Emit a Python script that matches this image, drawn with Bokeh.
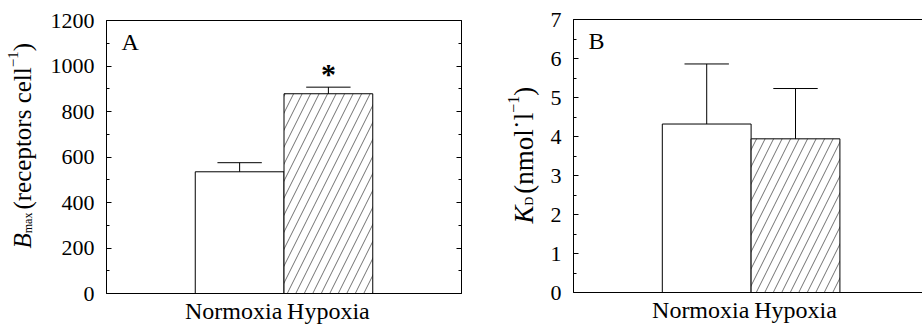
import math
from bokeh.plotting import figure
from bokeh.layouts import row
from bokeh.models import (Range1d, LinearAxis, SingleIntervalTicker, FixedTicker, Label,
                          ColumnDataSource, CustomJSTickFormatter)
from bokeh.embed import file_html
from bokeh.resources import INLINE

# ---------------- data ----------------
groups = ["Normoxia", "Hypoxia"]
group_labels = ["Normoxia\u2002", "Hypoxia"]
bmax_mean = [535, 878]
bmax_sem = [40, 29]
kd_mean = [4.32, 3.94]
kd_sem = [1.54, 1.29]
bar_hatch = [" ", "/"]
significant_bmax = [False, True]
significant_kd = [False, False]
panel_letters = ["A", "B"]

FONT = "Liberation Serif, Times New Roman, serif"
H = 324

# Times / Liberation Serif advance widths (per 1000 em) for label layout
MET = {" ": 250, "(": 333, ")": 333, "a": 444, "c": 444, "e": 444, "l": 278, "m": 778,
       "n": 500, "o": 500, "p": 500, "r": 333, "s": 389, "t": 278, "x": 500, "\u2212": 564,
       "1": 500, "D": 722, "B": 667, "K": 722, "\u02d9": 333}
MET_I = {"B": 611, "K": 667}


def twidth(s, size, style):
    tab = MET_I if style == "italic" else MET
    return sum(tab.get(c, MET.get(c, 500)) for c in s) * size / 1000.0


def label_strip(width, pieces, bx, by):
    """A narrow blank figure carrying the rotated y-axis title of the next panel."""
    s = figure(width=width, height=H, x_range=Range1d(0, 1), y_range=Range1d(0, 1),
               min_border=0, output_backend="svg", toolbar_location=None, tools="",
               x_axis_location=None, y_axis_location=None, frame_align=False,
               background_fill_color="white", border_fill_color="white")
    s.outline_line_color = None
    s.grid.visible = False
    y = by
    for txt, size, style, dx, gap in pieces:
        y += gap
        s.add_layout(Label(x=bx + dx, y=y, x_units="screen", y_units="screen", text=txt,
                           angle=math.pi / 2, text_font=FONT, text_font_size=f"{size}px",
                           text_font_style=style, text_align="left",
                           text_baseline="alphabetic", text_color="black"))
        y += twidth(txt, size, style)
    return s


def panel(means, sems, sig, ymax, interval, xmax, fw, mb_left, mb_right, mb_top,
          right_axis, letter):
    xpos = [i + 1.5 for i in range(len(groups))]
    p = figure(frame_width=fw, frame_height=273,
               x_range=Range1d(0, xmax), y_range=Range1d(0, ymax),
               output_backend="svg", toolbar_location=None, tools="",
               min_border_left=mb_left, min_border_right=mb_right,
               min_border_top=mb_top, min_border_bottom=31, frame_align=False,
               x_axis_location=None, y_axis_location=None,
               background_fill_color="white", border_fill_color="white")
    p.outline_line_color = None
    p.grid.visible = False

    src = ColumnDataSource(dict(x=xpos, top=means, hatch=bar_hatch,
                                err=[m + s for m, s in zip(means, sems)],
                                cl=[x - 0.25 for x in xpos], cr=[x + 0.25 for x in xpos]))
    p.vbar(x="x", top="top", width=1.0, source=src, fill_color="white",
           line_color="black", line_width=1, hatch_pattern="hatch",
           hatch_color="#333333", hatch_weight=0.7, hatch_scale=17)
    p.segment(x0="x", y0="top", x1="x", y1="err", source=src, line_color="black", line_width=1)
    p.segment(x0="cl", y0="err", x1="cr", y1="err", source=src, line_color="black", line_width=1)

    for xi, e, s in zip(xpos, src.data["err"], sig):
        if s:
            p.add_layout(Label(x=xi, y=e, y_offset=14, text="*", text_font=FONT,
                               text_font_size="30px", text_font_style="bold",
                               text_align="center", text_baseline="alphabetic",
                               text_color="black"))

    def yaxis(labels):
        ax = LinearAxis(ticker=SingleIntervalTicker(interval=interval, num_minor_ticks=2))
        ax.axis_line_color = "black"
        ax.major_tick_line_color = "black"
        ax.minor_tick_line_color = "black"
        ax.major_tick_in = 5
        ax.major_tick_out = 0
        ax.minor_tick_in = 3
        ax.minor_tick_out = 0
        ax.major_label_text_font = FONT
        ax.major_label_text_color = "black"
        ax.major_label_text_font_size = "22px"
        if labels:
            ax.major_label_standoff = 12
        else:
            ax.formatter = CustomJSTickFormatter(code="return ''")
            ax.major_label_standoff = 0
        return ax

    p.add_layout(yaxis(True), "left")
    if right_axis:
        p.add_layout(yaxis(False), "right")

    xb = LinearAxis(ticker=FixedTicker(ticks=xpos),
                    major_label_overrides={x: g for x, g in zip(xpos, group_labels)})
    xb.axis_line_color = "black"
    xb.major_tick_line_color = None
    xb.minor_tick_line_color = None
    xb.major_tick_in = 0
    xb.major_tick_out = 0
    xb.major_label_text_font = FONT
    xb.major_label_text_font_size = "24px"
    xb.major_label_text_color = "black"
    xb.major_label_standoff = 4
    p.add_layout(xb, "below")

    xt = LinearAxis(ticker=FixedTicker(ticks=[]))
    xt.axis_line_color = "black"
    xt.major_tick_line_color = None
    xt.minor_tick_line_color = None
    xt.major_tick_in = 0
    xt.major_tick_out = 0
    xt.major_label_standoff = 0
    p.add_layout(xt, "above")

    p.add_layout(Label(x=15, y=252, x_units="screen", y_units="screen", text=letter,
                       text_font=FONT, text_font_size="24px", text_color="black",
                       text_align="left", text_baseline="alphabetic"))
    return p


strip_a = label_strip(46,
                      [("B", 25, "italic", 0, 0), ("max", 12, "normal", 5, 0),
                       ("(receptors cell", 25, "normal", 0, 3), ("\u22121", 15, "normal", -10, 0),
                       (")", 25, "normal", 0, 0)],
                      22, 76)
pa = panel(bmax_mean, bmax_sem, significant_bmax, 1200, 200, 4.0, 355, 60, 5, 20, True,
           panel_letters[0])

strip_b = label_strip(74,
                      [("K", 27, "italic", 0, 0), ("D", 12, "normal", 5, 0),
                       ("(nmol\u02d9l", 27, "normal", 0, 3), ("\u22121", 16, "normal", -10, 0),
                       (")", 27, "normal", 0, 0)],
                      57, 101)
pb = panel(kd_mean, kd_sem, significant_kd, 7, 1, 3.93, 349, 33, 0, 19, False,
           panel_letters[1])

layout = row(strip_a, pa, strip_b, pb)
open("out.html", "w").write(file_html(layout, INLINE))
